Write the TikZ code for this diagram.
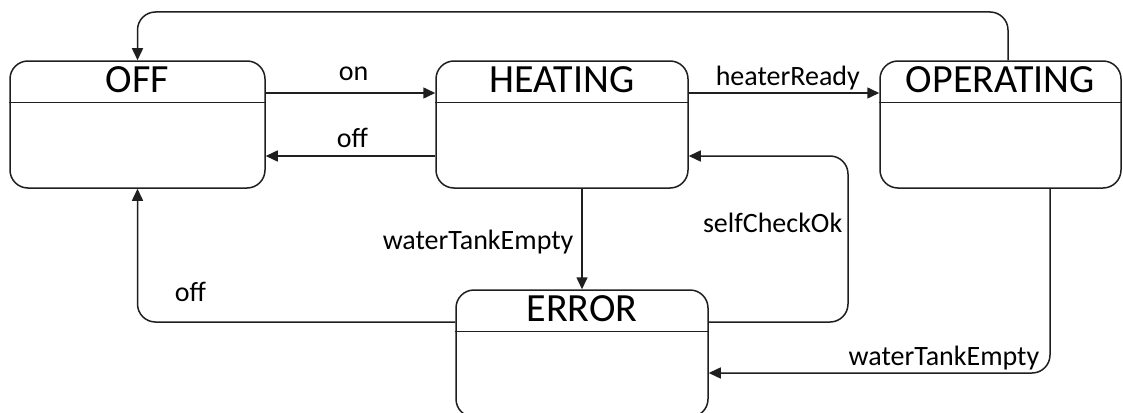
\documentclass[tikz,border=0pt]{standalone}
\usepackage{fontspec}
\setmainfont{Carlito}
\usetikzlibrary{arrows.meta}

\begin{document}
\begin{tikzpicture}[x=1pt,y=-1pt,
  line width=1.5pt,
  statebox/.style={draw=black!88, rounded corners=18pt, inner sep=0pt,
    minimum height=127pt},
  titletext/.style={anchor=base, inner sep=0pt, font=\fontsize{40}{48}\selectfont},
  lbl/.style={inner sep=0pt, font=\fontsize{28}{34}\selectfont},
  trans/.style={draw=black!88, rounded corners=18pt,
    -{Triangle[length=12pt,width=11pt]}},
  divider/.style={draw=black!88}]

\useasboundingbox (0,0) rectangle (1123,412);
\clip (0,0) rectangle (1123,412);
\fill[white] (0,0) rectangle (1123,412);

% states
\node[statebox, minimum width=255pt] (off)  at (137.5,124.5) {};
\node[statebox, minimum width=252pt] (heat) at (562,124.5) {};
\node[statebox, minimum width=241pt] (oper) at (1000.5,124.5) {};
\node[statebox, minimum width=252pt] (err)  at (582,353.5) {};

\foreach \s/\t in {off/OFF, heat/HEATING, oper/OPERATING, err/ERROR}{
  \node[titletext] (\s-title) at ([yshift=-32pt]\s.north) {\t};
  \draw[divider] ([yshift=-42pt]\s.north west) -- ([yshift=-42pt]\s.north east);
}

% routing rows and columns
\coordinate (rowTop) at (0,12);
\coordinate (rowA)   at (0,93);
\coordinate (rowB)   at (0,156);
\coordinate (rowC)   at (0,322);
\coordinate (rowD)   at (0,373);
\coordinate (colOp)  at (1008,0);
\coordinate (colSc)  at (848,0);
\coordinate (colWe)  at (1050,0);

% transitions
\draw[trans] (colOp |- oper.north) -- (colOp |- rowTop)
  -- (off.north |- rowTop) -- (off.north);
\draw[trans] (off.east |- rowA) -- (heat.west |- rowA);
\draw[trans] (heat.west |- rowB) -- (off.east |- rowB);
\draw[trans] (heat.east |- rowA) -- (oper.west |- rowA);
\draw[trans] (err.north |- heat.south) -- (err.north);
\draw[trans] (err.east |- rowC) -- (colSc |- rowC) -- (colSc |- rowB)
  -- (heat.east |- rowB);
\draw[trans] (err.west |- rowC) -- (off.south |- rowC) -- (off.south);
\draw[trans] (colWe |- oper.south) -- (colWe |- rowD) -- (err.east |- rowD);

% transition labels
\node[lbl, anchor=base west] (l-on)    at (338,80)  {on};
\node[lbl, anchor=base west] (l-off1)  at (336,147) {off};
\node[lbl, anchor=base west] (l-ready) at (715,85)  {heaterReady};
\node[lbl, anchor=base west] (l-wte1)  at (382,249) {waterTankEmpty};
\node[lbl, anchor=base east] (l-self)  at (843,232) {selfCheckOk};
\node[lbl, anchor=base west] (l-off2)  at (174,301) {off};
\node[lbl, anchor=base east] (l-wte2)  at (1040,365) {waterTankEmpty};
\end{tikzpicture}
\end{document}
